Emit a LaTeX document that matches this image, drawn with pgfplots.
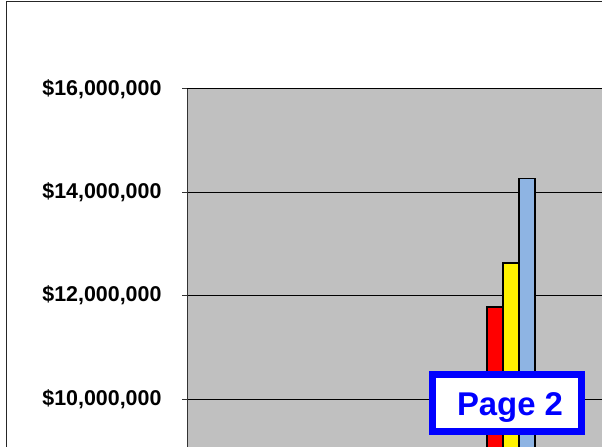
\documentclass[border=0pt]{standalone}
\usepackage{fontspec}
\setmainfont{Liberation Sans}
\usepackage{pgfplots}
\pgfplotsset{compat=1.18}
\definecolor{plotgray}{HTML}{C0C0C0}
\definecolor{barblue}{HTML}{8EB4E3}
\definecolor{pageblue}{HTML}{0000FF}
\begin{document}
\begin{tikzpicture}
\useasboundingbox (0,0) rectangle (602bp,447bp);
\clip (0,0) rectangle (602bp,447bp);
\fill[white] (0,0) rectangle (602bp,447bp);
\draw[line width=1.3bp, black!85] (6.5bp,-10bp) -- (6.5bp,445.5bp) -- (700bp,445.5bp);
\begin{axis}[
  at={(187bp,-55.4bp)}, anchor=south west,
  scale only axis, width=513bp, height=413.6bp,
  xmin=187, xmax=700, ymin=8000000, ymax=16000000,
  axis background/.style={fill=plotgray},
  axis x line=none, axis y line=left,
  y axis line style={-, line width=1bp, black!80},
  ytick={10000000,12000000,14000000,16000000},
  yticklabels={{\$10,000,000},{\$12,000,000},{\$14,000,000},{\$16,000,000}},
  scaled y ticks=false,
  tick align=outside, major tick length=5bp,
  tick style={black!80, line width=1bp},
  ymajorgrids, grid style={black, line width=0.8bp},
  yticklabel style={font=\bfseries\fontsize{21.5}{24}\selectfont, anchor=east, xshift=-17bp},
  ybar=0pt, bar width=16bp,
  clip=true,
]
\addplot[fill=red, draw=black, line width=1.4bp] coordinates {(511,11780000)};
\addplot[fill=yellow, draw=black, line width=1.4bp] coordinates {(511,12630000)};
\addplot[fill=barblue, draw=black, line width=1.4bp] coordinates {(511,14270000)};
\end{axis}
\node[draw=pageblue, line width=7bp, fill=white, minimum width=149bp, minimum height=57bp, inner sep=0pt,
  text=pageblue, font=\bfseries\fontsize{33}{36}\selectfont] at (507bp,44bp) {};
\node[text=pageblue, font=\bfseries\fontsize{33}{36}\selectfont, inner sep=0pt, anchor=base] at (510bp,32bp) {Page 2};
\end{tikzpicture}
\end{document}
